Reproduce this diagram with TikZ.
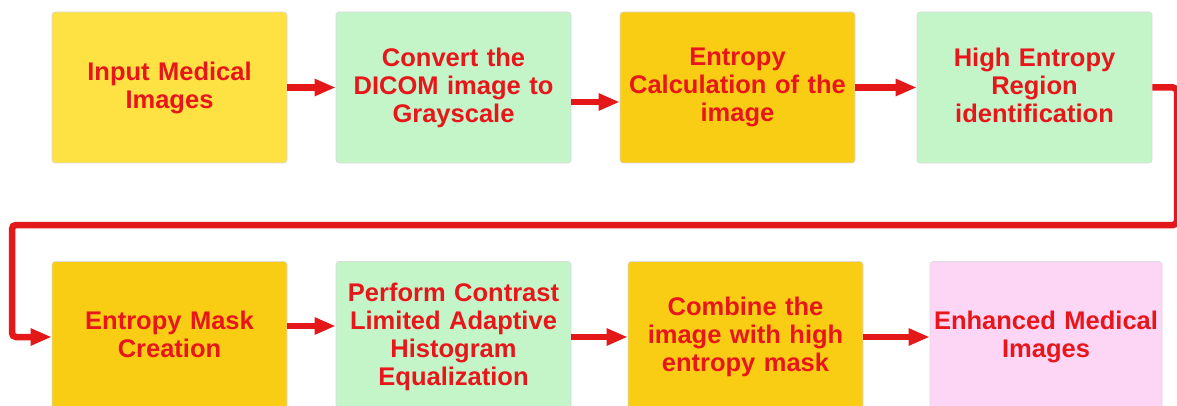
\documentclass[tikz,border=0pt]{standalone}
\usepackage{fontspec}
\setmainfont{Liberation Sans}
\usetikzlibrary{arrows.meta}
\definecolor{yel}{HTML}{FEE142}
\definecolor{gold}{HTML}{FACD15}
\definecolor{grn}{HTML}{C3F5C8}
\definecolor{pnk}{HTML}{FDD5F5}
\definecolor{txtred}{HTML}{E8151B}
\definecolor{arrred}{HTML}{E41818}
\begin{document}
\begin{tikzpicture}[x=1pt,y=1pt,
  box/.style={rectangle, rounded corners=3pt, minimum width=235pt, minimum height=151pt,
    inner sep=0pt, align=center, text width=232pt,
    font=\bfseries\fontsize{25.5}{28}\selectfont, text=txtred, draw=black!14, line width=0.6pt},
  conn/.style={draw=arrred, line width=6.5pt, -{Triangle[length=21pt,width=16pt]}}
]
\useasboundingbox (0,0) rectangle (1177,-406);
\fill[white] (0,0) rectangle (1177,-406);
\node[box, fill=yel]  (b1) at (169.5,-87.5) {Input Medical\\Images};
\node[box, fill=grn]  (b2) at (453.5,-87.5) {Convert the\\DICOM image to\\Grayscale};
\node[box, fill=gold] (b3) at (737.5,-87.5) {Entropy\\Calculation of the\\image};
\node[box, fill=grn]  (b4) at (1034.5,-87.5) {High Entropy\\Region\\identification\vphantom{g}};
\node[box, fill=gold] (b5) at (169.5,-337) {Entropy Mask\\Creation\vphantom{g}};
\node[box, fill=grn]  (b6) at (453.5,-337) {Perform Contrast\\Limited Adaptive\\Histogram\\Equalization};
\node[box, fill=gold] (b7) at (745.5,-337) {Combine the\\image with high\\entropy mask};
\node[box, fill=pnk, minimum width=232pt] (b8) at (1046,-337) {Enhanced Medical\\Images};
\coordinate (cr) at (1177,-225);
\coordinate (cl) at (12,-225);
\draw[conn] (b1.east) -- (b2.west);
\draw[conn] ([yshift=-14.5pt]b2.east) -- ([yshift=-14.5pt]b3.west);
\draw[conn] (b3.east) -- (b4.west);
\draw[conn, rounded corners=4pt] (b4.east) -| (cr) -- (cl) |- (b5.west);
\draw[conn] ([yshift=11pt]b5.east) -- ([yshift=11pt]b6.west);
\draw[conn] (b6.east) -- (b7.west);
\draw[conn] (b7.east) -- (b8.west);
\end{tikzpicture}
\end{document}
